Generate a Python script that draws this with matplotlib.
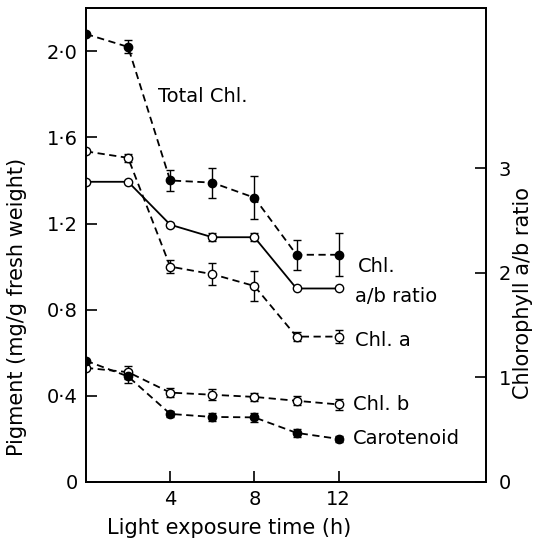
import numpy as np
import matplotlib.pyplot as plt

# light exposure time (h)
hours = [0, 2, 4, 6, 8, 10, 12]

# pigment contents (mg/g fresh weight)
total_chl = [2.08, 2.02, 1.40, 1.39, 1.32, 1.055, 1.055]
total_err = [0.0, 0.03, 0.05, 0.07, 0.10, 0.07, 0.10]
chl_a = [1.535, 1.505, 1.00, 0.965, 0.91, 0.675, 0.675]
chl_a_err = [0.0, 0.02, 0.03, 0.05, 0.07, 0.02, 0.03]
chl_b = [0.53, 0.51, 0.415, 0.405, 0.395, 0.377, 0.36]
chl_b_err = [0.0, 0.03, 0.02, 0.025, 0.02, 0.02, 0.025]
carotenoid = [0.563, 0.49, 0.316, 0.302, 0.30, 0.228, 0.20]
carot_err = [0.0, 0.03, 0.015, 0.02, 0.02, 0.02, 0.015]

# chlorophyll a/b ratio (right axis)
ab_ratio = [2.87, 2.87, 2.46, 2.34, 2.34, 1.85, 1.85]
ab_err = [0.0, 0.0, 0.02, 0.04, 0.04, 0.0, 0.0]

left_ticks = [0, 0.4, 0.8, 1.2, 1.6, 2.0]
left_labels = ["0", "0·4", "0·8", "1·2", "1·6", "2·0"]
right_ticks = [0, 1, 2, 3]

plt.rcParams['font.family'] = ['DejaVu Sans']
fig = plt.figure(figsize=(5.36, 5.44), dpi=100)
ax = fig.add_axes([0.1604, 0.114, 0.9067 - 0.1604, 0.985 - 0.114])
ax2 = ax.twinx()

dash = (0, (4, 2.5))
common = dict(color='black', lw=1.3, ms=6, capsize=3, elinewidth=1.0, capthick=1.0)

ax.errorbar(hours, total_chl, yerr=total_err, fmt='o', ls=dash, mfc='black', mec='black', **common)
ax.errorbar(hours, chl_a, yerr=chl_a_err, fmt='o', ls=dash, mfc='white', mec='black', **common)
ax.errorbar(hours, chl_b, yerr=chl_b_err, fmt='o', ls=dash, mfc='white', mec='black', **common)
ax.errorbar(hours, carotenoid, yerr=carot_err, fmt='o', ls=dash, mfc='black', mec='black', **common)
ax2.errorbar(hours, ab_ratio, yerr=ab_err, fmt='o', ls='-', mfc='white', mec='black', **common)

ax.set_xlim(0, 19)
ax.set_ylim(0, 2.2)
ax2.set_ylim(0, 4.53)

ax.set_xticks([4, 8, 12])
ax.set_yticks(left_ticks)
ax.set_yticklabels(left_labels)
ax2.set_yticks(right_ticks)

for a in (ax, ax2):
    a.tick_params(direction='in', length=8, width=1.2, labelsize=14, pad=6)
    for s in a.spines.values():
        s.set_linewidth(1.3)
ax2.tick_params(pad=9)

ax.set_xlabel("Light exposure time (h)", fontsize=15)
ax.set_ylabel("Pigment (mg/g fresh weight)", fontsize=15)
ax2.set_ylabel("Chlorophyll a/b ratio", fontsize=15)
for lab in (ax.xaxis.label, ax.yaxis.label, ax2.yaxis.label):
    lab.set_verticalalignment('center')
ax.xaxis.set_label_coords(0.3575, -0.097)
ax.yaxis.set_label_coords(-0.1725, 0.369)
ax2.yaxis.set_label_coords(1.0925, 0.399)

tkw = dict(fontsize=14, va='center', ha='left')
ax.text(3.4, 1.79, "Total Chl.", **tkw)
ax.text(12.9, 1.0, "Chl.", **tkw)
ax.text(12.8, 0.86, "a/b ratio", **tkw)
ax.text(12.8, 0.655, "Chl. a", **tkw)
ax.text(12.7, 0.36, "Chl. b", **tkw)
ax.text(12.7, 0.20, "Carotenoid", **tkw)

fig.savefig("out.png", dpi=100)
